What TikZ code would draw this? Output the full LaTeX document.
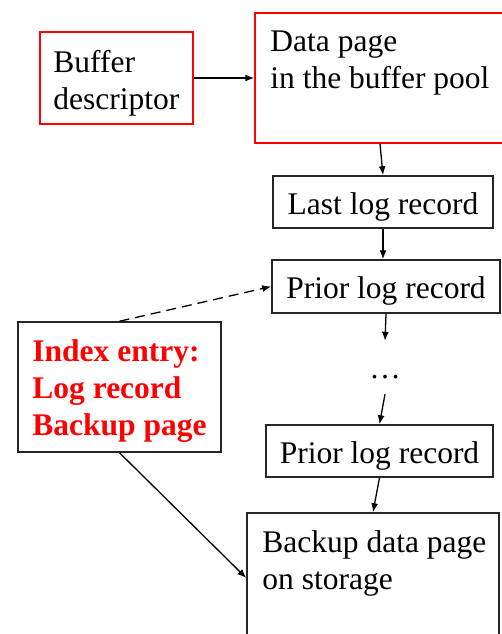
\documentclass[tikz,border=0pt]{standalone}
\usepackage{fontspec}
\setmainfont{Liberation Serif}
\usetikzlibrary{arrows.meta,positioning}
\tikzset{redbox/.style={draw=red,line width=1.5pt,rectangle,inner sep=0pt},
         logbox/.style={draw=black!85,line width=1.5pt,rectangle,inner sep=0pt},
         logline/.style={logbox,text height=30pt,text depth=6pt},
         boxtext/.style={anchor=north west,align=left,inner xsep=16pt,inner ysep=18pt},
         link/.style={-{Latex[length=9pt,width=7pt]},line width=1.3pt}}

\begin{document}
\begin{tikzpicture}[x=1pt,y=-1pt,font=\fontsize{31.5}{37.5}\selectfont]
\useasboundingbox (0,0) rectangle (502,634);

\node[redbox,minimum width=153pt,minimum height=92pt,
      label={[boxtext,inner xsep=14pt,inner ysep=19pt,font=\fontsize{31.5}{36.5}\selectfont]north west:{Buffer\\descriptor}}] (buf) at (116.5,78) {};
\node[redbox,minimum width=260pt,minimum height=130pt,
      label={[boxtext]north west:{Data page\\in the buffer pool}}] (page) at (385,78) {};

\node[logline,minimum width=220pt,minimum height=52pt] (last) at (383,202) {Last log record};
\node[logline,minimum width=228pt,minimum height=53pt] (prior1) at (386,286.5) {Prior log record};
\node[inner sep=0pt,text height=37pt,text depth=16pt,anchor=base] (dots) at (385,378) {\dots};
\node[logline,minimum width=227pt,minimum height=52pt] (prior2) at (379.5,451) {Prior log record};
\node[logbox,minimum width=252pt,minimum height=130pt,
      label={[boxtext]north west:{Backup data page\\on storage}}] (backup) at (373,578) {};

\node[logbox,minimum width=203pt,minimum height=130pt,
      label={[boxtext,inner xsep=15pt,text=red,font=\fontsize{31.5}{37}\selectfont\bfseries]north west:{Index entry:\\Log record\\Backup page}}] (entry) at (119.5,387) {};

\draw[link] (buf.east) -- (page.west);
\draw[link] ([xshift=-5pt]page.south) -- (last.north);
\draw[link] (last.south) -- (last.south |- prior1.north);
\draw[link] (prior1.south) -- (dots.north);
\draw[link] (dots.south) -- (prior2.north);
\draw[link] (prior2.south) -- (backup.north);
\draw[link,dash pattern=on 10pt off 6pt] (entry.north) -- (prior1.west);
\draw[link] (entry.south) -- (backup.west);

\end{tikzpicture}
\end{document}
